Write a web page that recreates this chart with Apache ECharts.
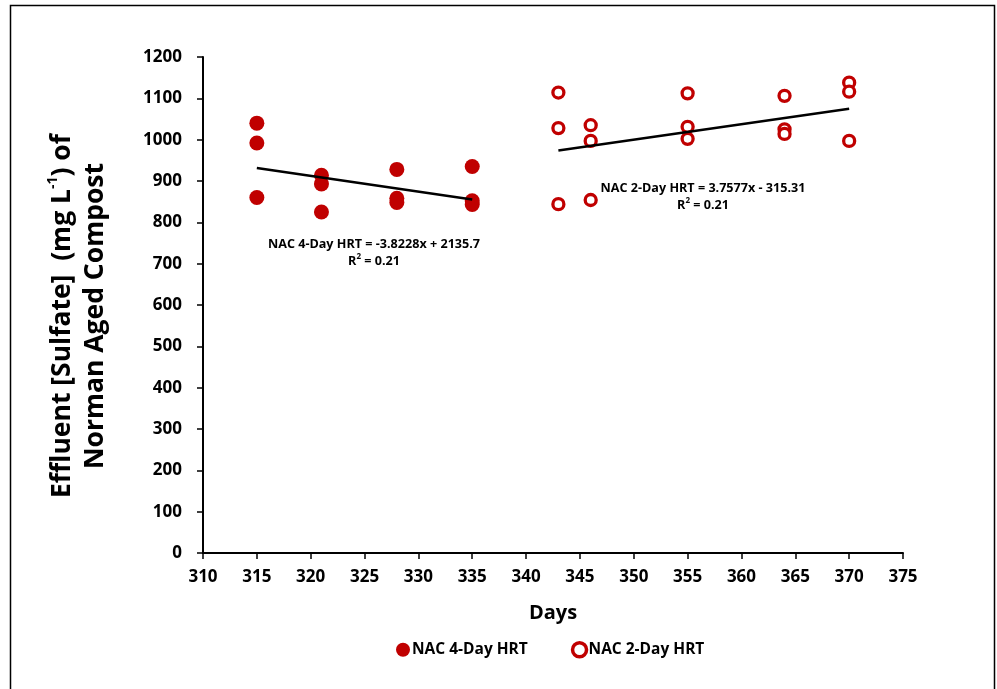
<!DOCTYPE html>
<html>
<head>
<meta charset="utf-8">
<script src="https://cdn.jsdelivr.net/npm/echarts@6/dist/echarts.min.js"></script>
<style>
  html, body { margin: 0; padding: 0; background: #fff; }
  #chart { width: 997px; height: 689px; }
</style>
</head>
<body>
<div id="chart"></div>
<script>
// Effluent sulfate of Norman Aged Compost, two HRT regimes
const days4 = [315, 315, 315, 321, 321, 321, 328, 328, 328, 335, 335, 335];
const sulfate4 = [1040, 992, 860, 914, 893, 825, 928, 858, 848, 935, 852, 843];

const days2 = [343, 343, 343, 346, 346, 346, 355, 355, 355, 364, 364, 364, 370, 370, 370];
const sulfate2 = [1114, 1028, 844, 1035, 997, 854, 1112, 1031, 1002, 1106, 1025, 1014, 1138, 1116, 997];

// Linear fits (slope, intercept) with their fit range
const fit4 = { slope: -3.8228, intercept: 2135.7, from: 315, to: 335, r2: 0.21 };
const fit2 = { slope: 3.7577, intercept: -315.31, from: 343, to: 370, r2: 0.21 };

const xTicks = { min: 310, max: 375, step: 5 };
const yTicks = { min: 0, max: 1200, step: 100 };

const seriesNames = ['NAC 4-Day HRT', 'NAC 2-Day HRT'];

const RED = '#C00000';
const FONT = '"Open Sans"';

function pairs(xs, ys) { return xs.map((x, i) => [x, ys[i]]); }
function fitLine(f) {
  return [f.from, f.to].map(x => [x, f.slope * x + f.intercept]);
}
function fitLabel(name, f) {
  const sign = f.intercept < 0 ? '- ' : '+ ';
  return '{t|' + name + ' = ' + f.slope + 'x ' + sign + Math.abs(f.intercept) + '}\n{t|R}{sup|2}{t| = ' + f.r2.toFixed(2) + '}';
}

const bold = { fontFamily: FONT, fontWeight: 'bold', color: '#000' };
const fitRich = {
  t: { fontFamily: FONT, fontWeight: 'bold', fontSize: 12.6, fill: '#000', lineHeight: 17 },
  sup: { fontFamily: FONT, fontWeight: 'bold', fontSize: 8, fill: '#000', verticalAlign: 'top', lineHeight: 17 }
};

const chart = echarts.init(document.getElementById('chart'));

chart.setOption({
  animation: false,
  backgroundColor: '#fff',
  textStyle: bold,
  grid: { left: 203, right: 94, top: 57, bottom: 136, containLabel: false },
  xAxis: {
    type: 'value',
    min: xTicks.min, max: xTicks.max, interval: xTicks.step,
    name: 'Days',
    nameLocation: 'middle',
    nameGap: 50,
    nameTextStyle: Object.assign({ fontSize: 20 }, bold),
    axisLine: { lineStyle: { color: '#000', width: 2 } },
    axisTick: { show: true, length: 6, lineStyle: { color: '#000', width: 1.5 } },
    axisLabel: Object.assign({ fontSize: 17, margin: 16 }, bold),
    splitLine: { show: false }
  },
  yAxis: {
    type: 'value',
    min: yTicks.min, max: yTicks.max, interval: yTicks.step,
    name: '{t|Effluent [Sulfate]  (mg L}{sup|-1}{t|) of}\n{t|Norman Aged Compost}',
    nameLocation: 'middle',
    nameGap: 91,
    nameRotate: 90,
    nameTextStyle: {
      padding: [0, 22, 0, 0],
      rich: {
        t: { fontFamily: FONT, fontWeight: 'bold', fontSize: 26.5, color: '#000', lineHeight: 33 },
        sup: { fontFamily: FONT, fontWeight: 'bold', fontSize: 14, color: '#000', verticalAlign: 'top', lineHeight: 33 }
      }
    },
    axisLine: { show: true, lineStyle: { color: '#000', width: 2 } },
    axisTick: { show: true, length: 6, lineStyle: { color: '#000', width: 1.5 } },
    axisLabel: Object.assign({ fontSize: 17, margin: 21, formatter: v => String(v) }, bold),
    splitLine: { show: false }
  },
  legend: {
    data: [
      { name: seriesNames[0], itemStyle: { color: RED, opacity: 1 } },
      { name: seriesNames[1], itemStyle: { color: '#fff', borderColor: RED, borderWidth: 3.5, opacity: 1 } }
    ],
    left: 391,
    top: 636,
    itemWidth: 14,
    itemHeight: 14,
    itemGap: 43,
    icon: 'circle',
    textStyle: Object.assign({ fontSize: 15.5, padding: [0, 0, 0, -3] }, bold)
  },
  series: [
    {
      name: seriesNames[0],
      type: 'scatter',
      symbol: 'circle',
      symbolSize: 15,
      itemStyle: { color: RED, opacity: 1 },
      data: pairs(days4, sulfate4),
      z: 3
    },
    {
      name: seriesNames[1],
      type: 'scatter',
      symbol: 'circle',
      symbolSize: 11,
      itemStyle: { color: '#fff', borderColor: RED, borderWidth: 3.3, opacity: 1 },
      data: pairs(days2, sulfate2),
      z: 3
    },
    {
      type: 'line',
      data: fitLine(fit4),
      showSymbol: false,
      symbol: 'none',
      lineStyle: { color: '#000', width: 2.5 },
      silent: true,
      z: 4
    },
    {
      type: 'line',
      data: fitLine(fit2),
      showSymbol: false,
      symbol: 'none',
      lineStyle: { color: '#000', width: 2.5 },
      silent: true,
      z: 4
    }
  ],
  graphic: [
    {
      type: 'rect',
      shape: { x: 10.5, y: 5.5, width: 984, height: 700 },
      style: { fill: 'none', stroke: '#000', lineWidth: 1.5 },
      silent: true
    },
    {
      type: 'text',
      x: 374, y: 253,
      style: {
        text: fitLabel('NAC 4-Day HRT', fit4),
        align: 'center', verticalAlign: 'middle',
        rich: fitRich
      }
    },
    {
      type: 'text',
      x: 703, y: 197,
      style: {
        text: fitLabel('NAC 2-Day HRT', fit2),
        align: 'center', verticalAlign: 'middle',
        rich: fitRich
      }
    }
  ]
});
</script>
</body>
</html>
